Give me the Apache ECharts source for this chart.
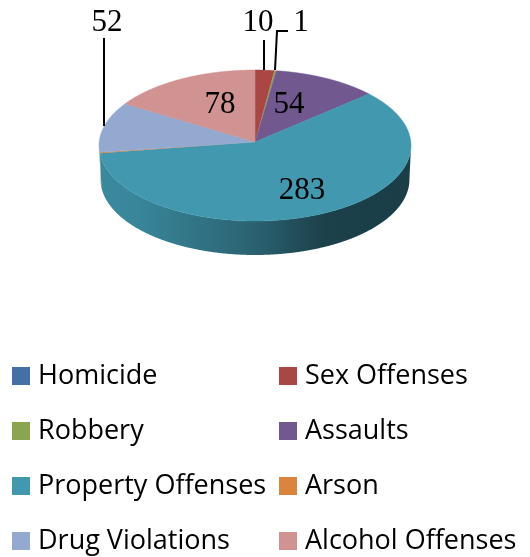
<!DOCTYPE html>
<html>
<head>
<meta charset="utf-8">
<style>html,body{margin:0;padding:0;background:#fff}#c{width:530px;height:557px}</style>
<script src="https://cdn.jsdelivr.net/npm/echarts@6/dist/echarts.min.js"></script>
</head>
<body>
<div id="c"></div>
<script>
const categories = ['Homicide','Sex Offenses','Robbery','Assaults','Property Offenses','Arson','Drug Violations','Alcohol Offenses'];
const values = [0,10,1,54,283,1,52,78];
const colors = ['#4470A6','#AA4643','#89A54E','#71588F','#4198AF','#DB843D','#93A9CF','#D19392'];

// Pie geometry (perspective projection of a tilted disc)
const CX = 255, CY = 145.5, RX = 156, RY = 75.5, DEPTH = 34, K = 0.0464;
const total = values.reduce((a,b)=>a+b,0);
const cum = values.reduce((acc,v)=>{acc.push(acc[acc.length-1]+v);return acc;},[0]);
function project(theta, r){
  const u = r*Math.sin(theta), v = r*Math.cos(theta), w = 1+K*v, d = RY*K;
  return {x: CX + RX*Math.sqrt(1-K*K)*u/w, yUp: (RY*v+d)/w};
}
const pt = p => [p.x, CY - p.yUp];
function arc(i){
  const a0 = cum[i]/total*2*Math.PI, a1 = cum[i+1]/total*2*Math.PI, n = Math.max(2,Math.ceil((a1-a0)/0.004));
  const out=[]; for(let j=0;j<=n;j++){ out.push(project(a0+(a1-a0)*j/n,1)); } return out;
}
// value label placement: [label centre x, y], optional leader polyline
const labelPlacement = {
  1:{at:[258,23], leader:[[264,40],[264,70]]},
  2:{at:[301,23], leader:[[275,70],[277,31],[288,31]]},
  3:{at:[289,105]},
  4:{at:[302,191]},
  6:{at:[107,23], leader:[[104,38],[104,126]]},
  7:{at:[220,105]}
};
const wallStops = [[0,0.90],[0.12,0.88],[0.45,0.68],[0.55,0.60],[0.62,0.52],[0.72,0.43],[1,0.40]];
function shade(hex,f){
  const n=parseInt(hex.slice(1),16);
  return 'rgb('+[(n>>16)&255,(n>>8)&255,n&255].map(c=>Math.round(c*f)).join(',')+')';
}
function renderWall(params, api){
  const i = params.dataIndex;
  const front = arc(i).filter(p=>p.yUp<=0);
  if(front.length<2) return null;
  const top = front.map(pt);
  const bottom = front.map(pt).map(p=>[CX+(p[0]-CX)*0.99,p[1]+DEPTH]).reverse();
  const fill = new echarts.graphic.LinearGradient(CX-RX,0,CX+RX,0,
    wallStops.map(s=>({offset:s[0],color:shade(colors[i],s[1])})),true);
  return {type:'polygon',shape:{points:top.concat(bottom)},style:{fill:fill}};
}
function makeTop(i){
  return function(params, api){
    const v = api.value(0);
    if(!v) return null;
    const apex = pt(project(0,0));
    const children = [{type:'polygon',shape:{points:[apex].concat(arc(i).map(pt))},
      style:{fill:colors[i],stroke:v>5?colors[i]:null,lineWidth:v>5?0.5:0}}];
    const lab = labelPlacement[i];
    if(lab){
      if(lab.leader) children.push({type:'polyline',shape:{points:lab.leader},style:{fill:null,stroke:'#000',lineWidth:2},z2:5});
      children.push({type:'text',x:lab.at[0],y:lab.at[1],z2:6,style:{text:String(v),fill:'#000',font:'31px "Liberation Serif"',align:'center',verticalAlign:'middle'}});
    }
    return {type:'group',children:children};
  };
}
const legendText = {color:'#000',fontFamily:'Open Sans',fontSize:27,lineHeight:26,padding:[2,0,0,3]};
const leftCol = categories.filter((c,i)=>i%2===0), rightCol = categories.filter((c,i)=>i%2===1);
const option = {
  animation:false,
  backgroundColor:'#fff',
  legend:[
    {data:leftCol,orient:'vertical',left:12,top:362,icon:'rect',itemWidth:18,itemHeight:18,itemGap:27,textStyle:legendText,selectedMode:false,padding:0},
    {data:rightCol,orient:'vertical',left:279,top:362,icon:'rect',itemWidth:18,itemHeight:18,itemGap:27,textStyle:legendText,selectedMode:false,padding:0}
  ],
  series:[
    {name:'Side wall',type:'custom',coordinateSystem:'none',z:2,silent:true,data:values.map(v=>[v]),renderItem:renderWall}
  ].concat(categories.map((c,i)=>({
    name:c,type:'custom',coordinateSystem:'none',z:3,silent:true,itemStyle:{color:colors[i]},data:[[values[i]]],renderItem:makeTop(i)
  })))
};
echarts.init(document.getElementById('c'),null,{renderer:'canvas'}).setOption(option);
</script>
</body>
</html>
